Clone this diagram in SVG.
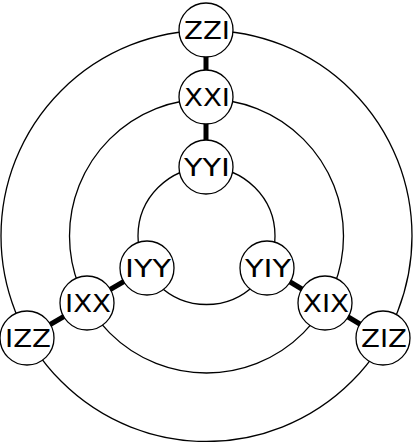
<svg xmlns="http://www.w3.org/2000/svg" width="415" height="442" viewBox="0 0 415 442">
<style>
.ring{fill:none;stroke:#000;stroke-width:1.3}
.bond{stroke:#000;stroke-width:5}
.node circle{fill:#fff;stroke:#000;stroke-width:1.3}
.node text{font-family:"DejaVu Sans",Verdana,sans-serif;font-size:25px;text-anchor:middle;dominant-baseline:central;fill:#000}
</style>
<rect width="415" height="442" fill="#fff"/>
<g id="rings">
<circle class="ring" cx="206.5" cy="236" r="68.5"/>
<circle class="ring" cx="206.5" cy="236" r="137"/>
<circle class="ring" cx="206.5" cy="236" r="205.5"/>
</g>
<g id="connectors">
<line class="bond" x1="206" y1="30" x2="206" y2="97"/>
<line class="bond" x1="206" y1="97" x2="206" y2="167"/>
<line class="bond" x1="147" y1="268" x2="87" y2="303"/>
<line class="bond" x1="87" y1="303" x2="27" y2="338"/>
<line class="bond" x1="267" y1="268" x2="325" y2="303"/>
<line class="bond" x1="325" y1="303" x2="383" y2="338"/>
</g>
<g id="ZZI" class="node"><circle cx="206" cy="30" r="27"/><text x="207" y="30" textLength="46" lengthAdjust="spacingAndGlyphs">ZZI</text></g>
<g id="XXI" class="node"><circle cx="206" cy="97" r="27"/><text x="207" y="97" textLength="46" lengthAdjust="spacingAndGlyphs">XXI</text></g>
<g id="YYI" class="node"><circle cx="206" cy="167" r="27"/><text x="207" y="167" textLength="46" lengthAdjust="spacingAndGlyphs">YYI</text></g>
<g id="IYY" class="node"><circle cx="147" cy="268" r="27"/><text x="148" y="268" textLength="46" lengthAdjust="spacingAndGlyphs">IYY</text></g>
<g id="YIY" class="node"><circle cx="267" cy="268" r="27"/><text x="268" y="268" textLength="46" lengthAdjust="spacingAndGlyphs">YIY</text></g>
<g id="IXX" class="node"><circle cx="87" cy="303" r="27"/><text x="88" y="303" textLength="46" lengthAdjust="spacingAndGlyphs">IXX</text></g>
<g id="XIX" class="node"><circle cx="325" cy="303" r="27"/><text x="326" y="303" textLength="46" lengthAdjust="spacingAndGlyphs">XIX</text></g>
<g id="IZZ" class="node"><circle cx="27" cy="338" r="27"/><text x="28" y="338" textLength="46" lengthAdjust="spacingAndGlyphs">IZZ</text></g>
<g id="ZIZ" class="node"><circle cx="383" cy="338" r="27"/><text x="384" y="338" textLength="46" lengthAdjust="spacingAndGlyphs">ZIZ</text></g>
</svg>
